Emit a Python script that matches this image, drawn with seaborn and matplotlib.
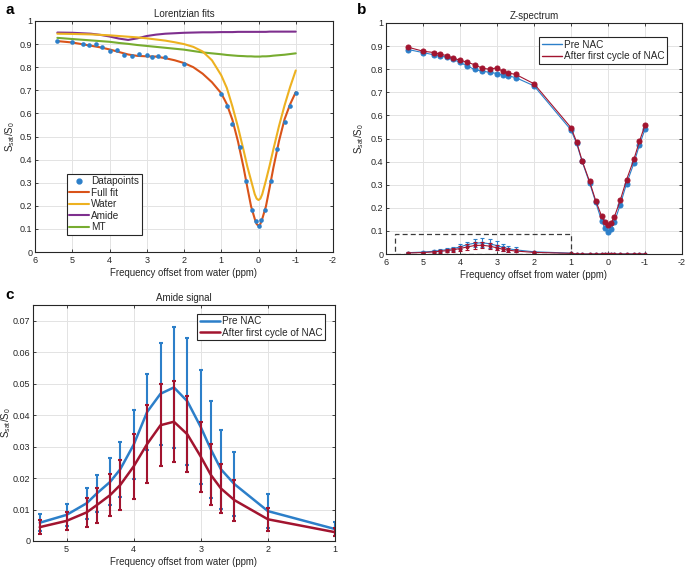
import pandas as pd
import seaborn as sns
import matplotlib.pyplot as plt
from matplotlib.lines import Line2D
from matplotlib.patches import Rectangle
from matplotlib.ticker import FuncFormatter

# Saturation offsets (ppm) of the acquired points
offsets = [5.4, 5.0, 4.7, 4.55, 4.35, 4.2, 4.0, 3.8, 3.6, 3.4, 3.2, 3.0, 2.85, 2.7, 2.5, 2.0,
           1.0, 0.85, 0.7, 0.5, 0.33, 0.17, 0.08, 0.0, -0.08, -0.17, -0.33, -0.5, -0.7, -0.85, -1.0]

# Panel a: measured points and Lorentzian fit components
datapoints = [0.912, 0.910, 0.899, 0.895, 0.899, 0.889, 0.870, 0.876, 0.851, 0.848, 0.857, 0.853,
              0.842, 0.847, 0.843, 0.816, 0.684, 0.633, 0.555, 0.454, 0.308, 0.180, 0.133, 0.114,
              0.140, 0.180, 0.308, 0.447, 0.561, 0.633, 0.690]

fit_x = [5.4, 5.0, 4.5, 4.25, 4.0, 3.75, 3.5, 3.25, 3.0, 2.75, 2.5, 2.25, 2.0, 1.75, 1.5, 1.25,
         1.0, 0.85, 0.7, 0.55, 0.4, 0.3, 0.2, 0.1, 0.05, 0.0, -0.05, -0.1, -0.2, -0.3, -0.4,
         -0.55, -0.7, -0.85, -1.0]
full_fit = [0.913, 0.907, 0.893, 0.886, 0.877, 0.866, 0.855, 0.849, 0.847, 0.846, 0.839, 0.830,
            0.818, 0.800, 0.772, 0.735, 0.687, 0.640, 0.572, 0.478, 0.365, 0.280, 0.198, 0.143,
            0.121, 0.113, 0.121, 0.143, 0.198, 0.280, 0.365, 0.480, 0.575, 0.640, 0.692]
water = [0.945, 0.944, 0.942, 0.940, 0.938, 0.935, 0.932, 0.929, 0.925, 0.920, 0.915, 0.908,
         0.900, 0.888, 0.868, 0.830, 0.765, 0.710, 0.630, 0.540, 0.440, 0.370, 0.310, 0.250,
         0.231, 0.225, 0.231, 0.250, 0.310, 0.375, 0.445, 0.545, 0.635, 0.715, 0.786]
amide = [0.950, 0.949, 0.945, 0.940, 0.933, 0.924, 0.918, 0.925, 0.935, 0.941, 0.945, 0.947,
         0.949, 0.950, 0.951, 0.951, 0.952, 0.952, 0.952, 0.953, 0.953, 0.953, 0.953, 0.953,
         0.953, 0.953, 0.953, 0.953, 0.953, 0.954, 0.954, 0.954, 0.954, 0.954, 0.954]
mt = [0.927, 0.922, 0.916, 0.913, 0.910, 0.905, 0.901, 0.896, 0.892, 0.888, 0.884, 0.880,
      0.876, 0.870, 0.864, 0.860, 0.856, 0.853, 0.851, 0.849, 0.848, 0.847, 0.847, 0.846,
      0.846, 0.846, 0.846, 0.847, 0.847, 0.848, 0.850, 0.852, 0.854, 0.857, 0.860]

# Panel b: Z-spectra
z_pre = [0.885, 0.872, 0.862, 0.858, 0.852, 0.843, 0.830, 0.813, 0.799, 0.791, 0.787, 0.781,
         0.776, 0.771, 0.764, 0.728, 0.537, 0.479, 0.401, 0.309, 0.223, 0.142, 0.111, 0.096,
         0.108, 0.137, 0.213, 0.304, 0.393, 0.472, 0.540]
z_post = [0.895, 0.878, 0.872, 0.865, 0.859, 0.848, 0.839, 0.830, 0.819, 0.804, 0.800, 0.806,
          0.791, 0.783, 0.778, 0.737, 0.547, 0.486, 0.404, 0.315, 0.230, 0.163, 0.137, 0.124,
          0.134, 0.160, 0.232, 0.321, 0.410, 0.488, 0.558]

# Panel c: amide signal (first 17 offsets), mean and error
amide_x = offsets[:17]
pre_mean = [0.0058, 0.0083, 0.0120, 0.0151, 0.0188, 0.0228, 0.0306, 0.0410, 0.0468, 0.0488,
            0.0444, 0.0362, 0.0291, 0.0228, 0.0181, 0.0095, 0.0038]
pre_err = [0.0027, 0.0035, 0.0050, 0.0059, 0.0075, 0.0088, 0.0110, 0.0120, 0.0162, 0.0192,
           0.0202, 0.0182, 0.0154, 0.0126, 0.0101, 0.0054, 0.0022]
post_mean = [0.0044, 0.0064, 0.0091, 0.0114, 0.0146, 0.0178, 0.0237, 0.0308, 0.0368, 0.0379,
             0.0339, 0.0268, 0.0210, 0.0167, 0.0130, 0.0069, 0.0028]
post_err = [0.0022, 0.0029, 0.0046, 0.0056, 0.0067, 0.0080, 0.0103, 0.0124, 0.0131, 0.0129,
            0.0121, 0.0111, 0.0097, 0.0077, 0.0065, 0.0037, 0.0012]
# amide signal near water (1 to -1 ppm) is flat at zero
amide_tail = [0.0, 0.0, 0.0, 0.0, 0.0, 0.0, 0.0, 0.0, 0.0, 0.0, 0.0, 0.0, 0.0, 0.0]

BLUE = "#2C7FC9"
RED = "#A2142F"
ORANGE = "#D95319"
YELLOW = "#EDB120"
PURPLE = "#7E2F8E"
GREEN = "#77AC30"
DARK = "#262626"

sns.set_theme(style="whitegrid", rc={
    "axes.edgecolor": DARK,
    "axes.linewidth": 0.8,
    "grid.color": "#e3e3e3",
    "grid.linewidth": 0.7,
    "xtick.direction": "in",
    "ytick.direction": "in",
    "xtick.top": True,
    "ytick.right": True,
    "xtick.bottom": True,
    "ytick.left": True,
    "xtick.major.size": 2.5,
    "ytick.major.size": 2.5,
    "xtick.major.width": 0.6,
    "ytick.major.width": 0.6,
    "xtick.color": DARK,
    "ytick.color": DARK,
    "xtick.labelsize": 6.5,
    "ytick.labelsize": 6.5,
    "axes.labelcolor": DARK,
    "axes.unicode_minus": False,
})
plt.rcParams["font.family"] = ["Liberation Sans", "DejaVu Sans"]

W, H = 685, 567
fig = plt.figure(figsize=(W / 100, H / 100), dpi=100)


def box(left, top, right, bottom):
    return [left / W, 1 - bottom / H, (right - left) / W, (bottom - top) / H]


ax_a = fig.add_axes(box(35, 21, 333, 252))
ax_b = fig.add_axes(box(386, 23, 682, 254))
ax_c = fig.add_axes(box(33, 305, 335, 541))

fmt = FuncFormatter(lambda v, p: "%g" % round(v, 4))
ylab = r"S$_{\mathregular{sat}}$/S$_{\mathregular{0}}$"
xlab = "Frequency offset from water (ppm)"


def style(ax, title, ylab_x):
    ax.set_title(title, fontsize=7, color=DARK, pad=3)
    ax.set_xlabel(xlab, fontsize=6.9, labelpad=2)
    ax.set_ylabel(ylab, fontsize=7)
    ax.yaxis.set_label_coords(ylab_x, 0.5)
    ax.xaxis.set_major_formatter(fmt)
    ax.yaxis.set_major_formatter(fmt)
    ax.tick_params(axis="x", pad=3)
    ax.tick_params(axis="y", pad=2)


def add_legend(ax, handles, labels, loc, anchor, size):
    leg = ax.legend(handles, labels, loc=loc, bbox_to_anchor=anchor, borderaxespad=0,
                    fontsize=size, fancybox=False, framealpha=1, edgecolor=DARK,
                    handlelength=2.0, handletextpad=0.2, labelspacing=0.15, borderpad=0.25)
    leg.get_frame().set_linewidth(0.8)


# ---- Panel a: Lorentzian fits
fits = pd.DataFrame({"x": fit_x, "Full fit": full_fit, "Water": water, "Amide": amide, "MT": mt})
pts = pd.DataFrame({"x": offsets, "y": datapoints})
sns.scatterplot(data=pts, x="x", y="y", ax=ax_a, color=BLUE, s=11, linewidth=0, zorder=3)
for name, col in [("Amide", PURPLE), ("MT", GREEN), ("Water", YELLOW), ("Full fit", ORANGE)]:
    sns.lineplot(data=fits, x="x", y=name, ax=ax_a, color=col, lw=1.5, sort=False, zorder=2)
ax_a.set_xlim(6, -2)
ax_a.set_ylim(0, 1)
ax_a.set_xticks(range(6, -3, -1))
ax_a.set_yticks([i / 10 for i in range(11)])
style(ax_a, "Lorentzian fits", -0.06)
handles = [Line2D([], [], ls="", marker="o", ms=3.5, color=BLUE),
           Line2D([], [], color=ORANGE, lw=1.5),
           Line2D([], [], color=YELLOW, lw=1.5),
           Line2D([], [], color=PURPLE, lw=1.5),
           Line2D([], [], color=GREEN, lw=1.5)]
add_legend(ax_a, handles, ["Datapoints", "Full fit", "Water", "Amide", "MT"],
           "lower left", (0.107, 0.074), 7.2)

# ---- Panel b: Z-spectrum
zs = pd.DataFrame({"x": offsets, "pre": z_pre, "post": z_post})
sns.lineplot(data=zs, x="x", y="pre", ax=ax_b, color=BLUE, lw=0.8, marker="o", ms=3.6,
             mec=BLUE, sort=False)
sns.lineplot(data=zs, x="x", y="post", ax=ax_b, color=RED, lw=0.8, marker="o", ms=3.6,
             mec=RED, sort=False)
amide_b = pd.DataFrame({"x": offsets, "pre": pre_mean + amide_tail, "post": post_mean + amide_tail})
ax_b.errorbar(amide_x, pre_mean, yerr=pre_err, fmt="none", ecolor=BLUE, elinewidth=0.8,
              capsize=1.3, capthick=0.8)
sns.lineplot(data=amide_b, x="x", y="pre", ax=ax_b, color=BLUE, lw=0.8, marker="o", ms=2,
             mec=BLUE, sort=False)
ax_b.errorbar(amide_x, post_mean, yerr=post_err, fmt="none", ecolor=RED, elinewidth=0.8,
              capsize=1.3, capthick=0.8)
sns.lineplot(data=amide_b, x="x", y="post", ax=ax_b, color=RED, lw=0.8, marker="o", ms=2,
             mec=RED, sort=False)
ax_b.add_patch(Rectangle((1.0, 0.0), 4.75, 0.088, fill=False, ls=(0, (4, 2.5)),
                         lw=0.9, ec="#3a3a3a", zorder=4))
ax_b.set_xlim(6, -2)
ax_b.set_ylim(0, 1)
ax_b.set_xticks(range(6, -3, -1))
ax_b.set_yticks([i / 10 for i in range(11)])
style(ax_b, "Z-spectrum", -0.068)
lh = [Line2D([], [], color=BLUE, lw=1.0), Line2D([], [], color=RED, lw=1.0)]
add_legend(ax_b, lh, ["Pre NAC", "After first cycle of NAC"], "upper right",
           (0.949, 0.939), 7.2)

# ---- Panel c: Amide signal
amd = pd.DataFrame({"x": amide_x, "pre": pre_mean, "post": post_mean})
sns.lineplot(data=amd, x="x", y="pre", ax=ax_c, color=BLUE, lw=1.8, sort=False)
ax_c.errorbar(amide_x, pre_mean, yerr=pre_err, fmt="none", ecolor=BLUE, elinewidth=1.5,
              capsize=1.6, capthick=1.5)
sns.lineplot(data=amd, x="x", y="post", ax=ax_c, color=RED, lw=1.8, sort=False)
ax_c.errorbar(amide_x, post_mean, yerr=post_err, fmt="none", ecolor=RED, elinewidth=1.5,
              capsize=1.6, capthick=1.5)
ax_c.set_xlim(5.5, 1)
ax_c.set_ylim(0, 0.075)
ax_c.set_xticks([5, 4, 3, 2, 1])
ax_c.set_yticks([i / 100 for i in range(8)])
style(ax_c, "Amide signal", -0.066)
lh = [Line2D([], [], color=BLUE, lw=1.8), Line2D([], [], color=RED, lw=1.8)]
add_legend(ax_c, lh, ["Pre NAC", "After first cycle of NAC"], "upper right",
           (0.967, 0.962), 7.2)

for letter, x, y in [("a", 5, 3), ("b", 357, 3), ("c", 5, 288)]:
    fig.text(x / W, 1 - y / H, letter, fontsize=11, fontweight="bold", va="top", ha="left",
             color="black")

fig.savefig("out.png", dpi=100)
